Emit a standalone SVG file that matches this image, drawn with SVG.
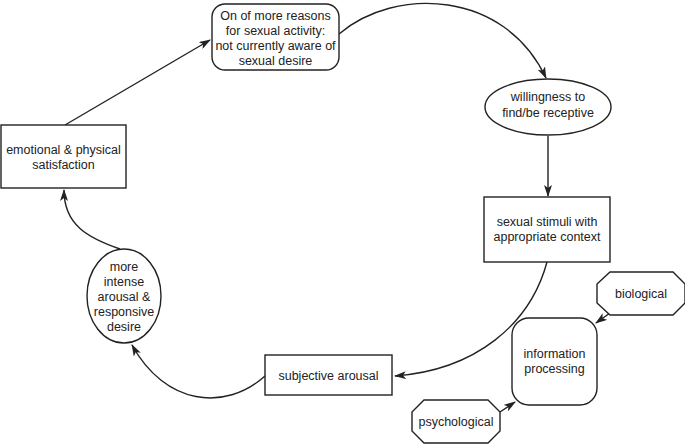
<svg xmlns="http://www.w3.org/2000/svg" width="685" height="445" viewBox="0 0 685 445">
<style>
.s{fill:#fff;stroke:#222;stroke-width:1.4}
.t{font-family:"Liberation Sans",Arial,sans-serif;font-size:12.5px;fill:#222;text-anchor:middle}
.c{fill:none;stroke:#222;stroke-width:1.4}
</style>
<defs>
<marker id="ah" markerWidth="12" markerHeight="8" refX="11" refY="4" orient="auto" markerUnits="userSpaceOnUse">
<path d="M0,0 L12,4 L0,8 L3,4 z" fill="#222"/>
</marker>
</defs>
<rect width="685" height="445" fill="#fff"/>
<g id="connectors">
<path class="c" d="M339,34 C395,-14 505,-10 546,78" marker-end="url(#ah)"/>
<path class="c" d="M548,136 L548,196" marker-end="url(#ah)"/>
<path class="c" d="M547,262 C530,325 475,370 395,376" marker-end="url(#ah)"/>
<path class="c" d="M265,376 C225,412 165,405 132,345" marker-end="url(#ah)"/>
<path class="c" d="M120,249 C88,238 64,225 64,190" marker-end="url(#ah)"/>
<path class="c" d="M65,125 L210,40" marker-end="url(#ah)"/>
<path class="c" d="M610,313 L596,323" marker-end="url(#ah)"/>
<path class="c" d="M500,412 L515,402" marker-end="url(#ah)"/>
</g>
<g id="reasons">
<rect class="s" x="212" y="4" width="127" height="66" rx="13"/>
<text class="t" x="275.5" y="20">On of more reasons</text>
<text class="t" x="275.5" y="35">for sexual activity:</text>
<text class="t" x="275.5" y="50">not currently aware of</text>
<text class="t" x="275.5" y="65">sexual desire</text>
</g>
<g id="willingness">
<ellipse class="s" cx="548" cy="107" rx="63" ry="28"/>
<text class="t" x="548" y="101">willingness to</text>
<text class="t" x="548" y="117">find/be receptive</text>
</g>
<g id="stimuli">
<rect class="s" x="484" y="197" width="126" height="65"/>
<text class="t" x="547" y="226">sexual stimuli with</text>
<text class="t" x="547" y="241">appropriate context</text>
</g>
<g id="subjective">
<rect class="s" x="265" y="355" width="127" height="40"/>
<text class="t" x="328.5" y="380">subjective arousal</text>
</g>
<g id="intense">
<ellipse class="s" cx="124" cy="296" rx="37" ry="47"/>
<text class="t" x="124" y="271">more</text>
<text class="t" x="124" y="286">intense</text>
<text class="t" x="124" y="301">arousal &amp;</text>
<text class="t" x="124" y="316">responsive</text>
<text class="t" x="124" y="331">desire</text>
</g>
<g id="satisfaction">
<rect class="s" x="1" y="125" width="125" height="63"/>
<text class="t" x="63.5" y="154">emotional &amp; physical</text>
<text class="t" x="63.5" y="169">satisfaction</text>
</g>
<g id="info">
<rect class="s" x="512" y="318" width="85" height="87" rx="17"/>
<text class="t" x="554.5" y="358">information</text>
<text class="t" x="554.5" y="373">processing</text>
</g>
<g id="biological">
<polygon class="s" points="610,272 673,272 685,284 685,303 673,315 610,315 597,303 597,284"/>
<text class="t" x="641" y="298">biological</text>
</g>
<g id="psychological">
<polygon class="s" points="424,400 488,400 500,412 500,431 488,443 424,443 412,431 412,412"/>
<text class="t" x="456" y="426">psychological</text>
</g>
</svg>
